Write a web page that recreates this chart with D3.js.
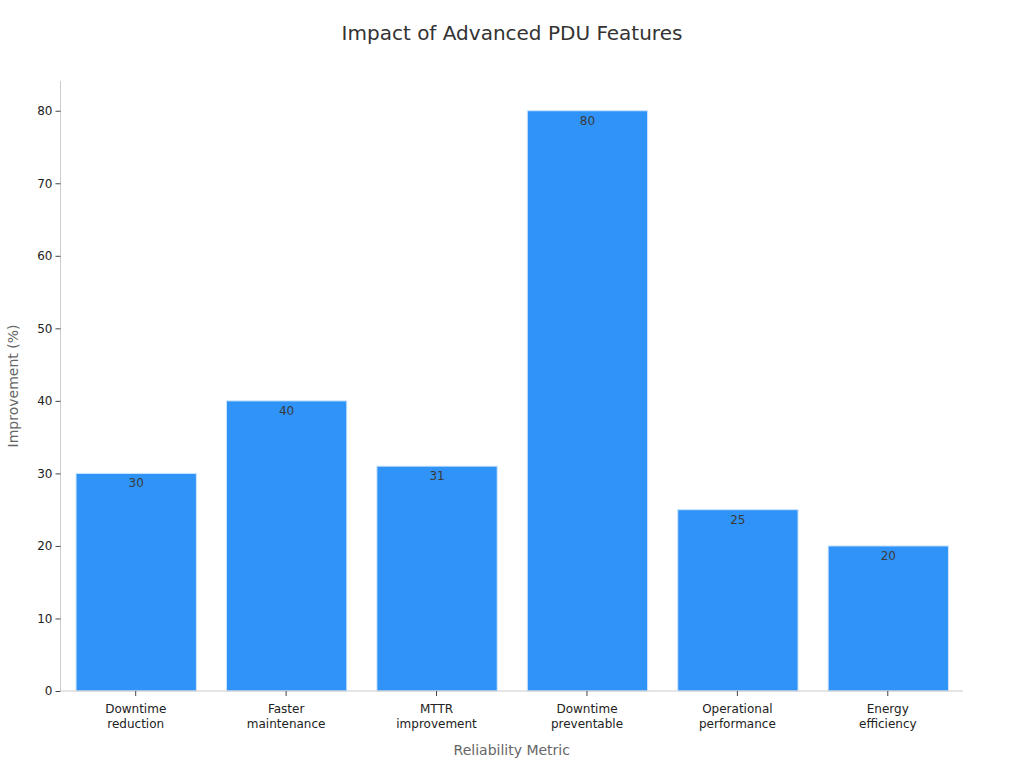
<!DOCTYPE html>
<html>
<head>
<meta charset="utf-8">
<script src="https://cdn.jsdelivr.net/npm/d3@7"></script>
<style>
  body { margin: 0; background: #fff; }
  text { font-family: "DejaVu Sans", sans-serif; }
</style>
</head>
<body>
<svg id="chart" width="1024" height="768"></svg>
<script>
// chart data
const categories = [
  "Downtime\nreduction",
  "Faster\nmaintenance",
  "MTTR\nimprovement",
  "Downtime\npreventable",
  "Operational\nperformance",
  "Energy\nefficiency"
];
const values = [30, 40, 31, 80, 25, 20];
const yTicks = [0, 10, 20, 30, 40, 50, 60, 70, 80];

const svg = d3.select("#chart");
const margin = { top: 81, right: 61, bottom: 77, left: 60.5 },
  width = 1024,
  height = 768,
  innerWidth = width - margin.left - margin.right,
  innerHeight = height - margin.top - margin.bottom;

const g = svg.append("g").attr("transform", `translate(${margin.left},${margin.top})`);

const xScale = d3.scaleBand()
  .domain(categories)
  .range([0, innerWidth])
  .paddingInner(0.2)
  .paddingOuter(0.1);
const yScale = d3.scaleLinear().domain([0, 84.1]).range([innerHeight, 0]);

// bars
g.selectAll(".bar")
  .data(values)
  .join("rect")
  .attr("class", "bar")
  .attr("x", (d, i) => xScale(categories[i]) + 0.5)
  .attr("y", (d) => yScale(d))
  .attr("width", xScale.bandwidth())
  .attr("height", (d) => innerHeight - yScale(d))
  .style("fill", "#3093f8")
  .style("stroke", "#cfe6fd")
  .style("stroke-width", 1);

// value labels
g.selectAll(".val")
  .data(values)
  .join("text")
  .attr("class", "val")
  .attr("x", (d, i) => xScale(categories[i]) + xScale.bandwidth() / 2 + 0.5)
  .attr("y", (d) => yScale(d) + 14)
  .attr("text-anchor", "middle")
  .style("font-size", "12px")
  .style("fill", "#3a3a3a")
  .text((d) => d);

// y axis
const yAxis = g.append("g")
  .attr("font-size", 12)
  .attr("font-family", "DejaVu Sans, sans-serif")
  .call(d3.axisLeft(yScale).tickValues(yTicks).tickSize(5).tickPadding(3));
yAxis.attr("font-size", 12).attr("font-family", "DejaVu Sans, sans-serif");
yAxis.select(".domain").attr("stroke", "#ccc").attr("d", `M0,0V${innerHeight}`);
yAxis.selectAll(".tick line").attr("stroke", "#444");
yAxis.selectAll(".tick text").attr("fill", "#222");

// x axis
const xAxis = g.append("g")
  .attr("transform", `translate(0,${innerHeight})`)
  .call(d3.axisBottom(xScale).tickSize(5).tickPadding(8));
xAxis.attr("font-size", 12).attr("font-family", "DejaVu Sans, sans-serif");
xAxis.select(".domain").attr("stroke", "#ccc").attr("d", `M0,0H${innerWidth}`);
xAxis.selectAll(".tick line").attr("stroke", "#444");
xAxis.selectAll(".tick text")
  .attr("fill", "#222")
  .each(function (d) {
    const t = d3.select(this);
    const lines = d.split("\n");
    t.text(null);
    lines.forEach((l, i) => {
      t.append("tspan").attr("x", 0).attr("dy", i === 0 ? "0.71em" : "1.25em").text(l);
    });
  });

// title
svg.append("text")
  .attr("x", 512)
  .attr("y", 40)
  .attr("text-anchor", "middle")
  .style("font-size", "20px")
  .style("fill", "#333")
  .text("Impact of Advanced PDU Features");

// axis titles
svg.append("text")
  .attr("x", margin.left + innerWidth / 2)
  .attr("y", 755)
  .attr("text-anchor", "middle")
  .style("font-size", "14px")
  .style("fill", "#666")
  .text("Reliability Metric");

svg.append("text")
  .attr("transform", `translate(18,${margin.top + innerHeight / 2}) rotate(-90)`)
  .attr("text-anchor", "middle")
  .style("font-size", "14px")
  .style("fill", "#666")
  .text("Improvement (%)");
</script>
</body>
</html>
